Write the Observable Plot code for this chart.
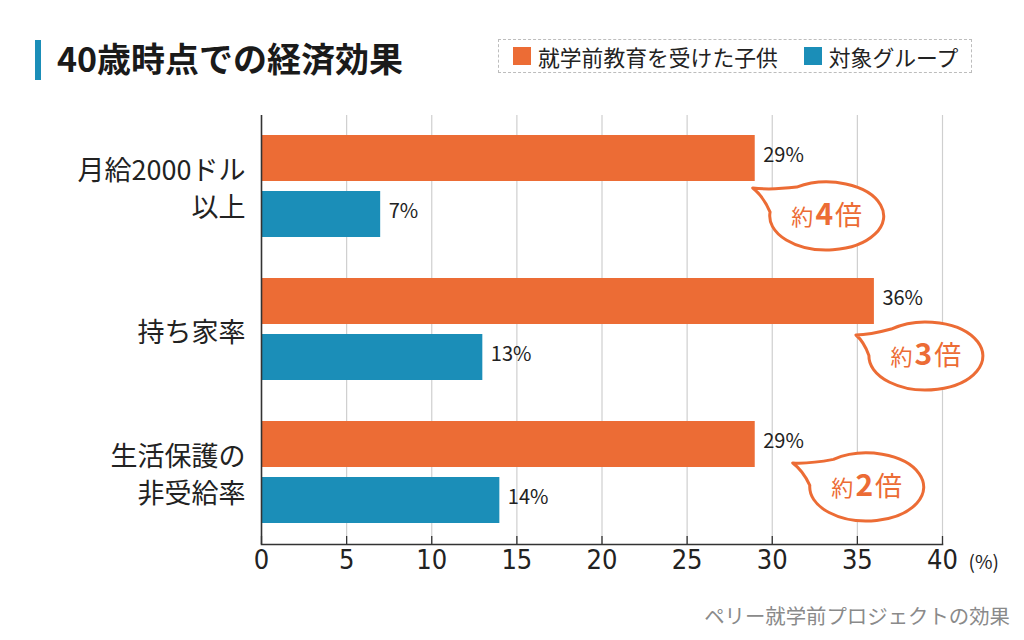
<!DOCTYPE html>
<html><head><meta charset="utf-8">
<script src="https://cdn.jsdelivr.net/npm/d3@7"></script>
<script src="https://cdn.jsdelivr.net/npm/@observablehq/plot@0.6"></script>
<style>
body{margin:0;background:#fff;font-family:"Noto Sans CJK JP",sans-serif;}
#wrap{position:relative;width:1024px;height:640px;overflow:hidden;background:#fff;}
#wrap svg{position:absolute;left:0;top:0;}
#titlebar{position:absolute;left:35px;top:40px;width:6px;height:40px;background:#1B8EB8;}
#title{position:absolute;left:57px;top:36px;font-size:34px;font-weight:700;color:#1a1a1a;line-height:44px;white-space:nowrap;}
#legend{position:absolute;left:498px;top:39px;width:474px;height:34px;border:1.5px dashed #bdbdbd;box-sizing:border-box;display:flex;align-items:center;padding-left:14px;font-size:21.8px;color:#222;white-space:nowrap;}
#legend .item{display:flex;align-items:center;margin-right:26px;}
#legend .sw{width:18px;height:18px;margin-right:7px;}
#caption{position:absolute;right:14px;top:600px;font-size:20.4px;color:#8a8a8a;white-space:nowrap;}
</style></head><body>
<div id="wrap">
  <div id="titlebar"></div>
  <div id="title"></div>
  <div id="legend"></div>
  <div id="caption"></div>
</div>
<script>
// ---- data ----
const categories = ["月給2000ドル\n以上", "持ち家率", "生活保護の\n非受給率"];
const series = ["就学前教育を受けた子供", "対象グループ"];
const preschoolValues = [29, 36, 29];
const controlValues = [7, 13, 14];
const ratioLabels = [["約", "4", "倍"], ["約", "3", "倍"], ["約", "2", "倍"]];
const xTicks = [0, 5, 10, 15, 20, 25, 30, 35, 40];
const unitLabel = "(%)";
const titleText = "40歳時点での経済効果";
const captionText = "ペリー就学前プロジェクトの効果";

// ---- styles / layout ----
const ORANGE = "#EC6C35";
const BLUE = "#1B8EB8";
const colors = [ORANGE, BLUE];
const calloutLayout = [
  {tip: [-2, 7], center: [72, 35]},
  {tip: [-18, 11], center: [52, 32]},
  {tip: [38, -4], center: [112, 20]}
];

document.getElementById("title").textContent = titleText;
document.getElementById("caption").textContent = captionText;
const legend = document.getElementById("legend");
series.forEach((s, i) => {
  const it = document.createElement("div"); it.className = "item";
  const sw = document.createElement("div"); sw.className = "sw"; sw.style.background = colors[i];
  const tx = document.createElement("span"); tx.textContent = s;
  it.appendChild(sw); it.appendChild(tx); legend.appendChild(it);
});

const data = categories.flatMap((c, i) => [
  {category: c, series: series[0], value: preschoolValues[i]},
  {category: c, series: series[1], value: controlValues[i]}
]);

const plot = Plot.plot({
  width: 1024, height: 640,
  marginLeft: 261, marginRight: 82, marginTop: 115, marginBottom: 96,
  style: {fontFamily: '"Noto Sans CJK JP", sans-serif', background: "transparent", overflow: "visible"},
  x: {domain: [0, 40], ticks: xTicks, label: null},
  y: {domain: series, axis: null, paddingInner: 0.175, paddingOuter: 0.342},
  fy: {domain: categories, padding: 0, axis: null, label: null},
  color: {domain: series, range: colors},
  marks: [
    Plot.gridX(xTicks.filter(t => t > 0), {stroke: "#cfcfcf", strokeOpacity: 1, strokeWidth: 1.2}),
    Plot.barX(data, {x: "value", y: "series", fy: "category", fill: "series"}),
    Plot.text(data, {x: "value", y: "series", fy: "category", text: d => d.value + "%", dx: 8, dy: -3,
      textAnchor: "start", fontSize: 20, fill: "#222"}),
    Plot.ruleX([0], {stroke: "#333", strokeWidth: 1.6}),
    Plot.frame({anchor: "bottom", facetAnchor: "bottom", stroke: "#333", strokeWidth: 1.6}),
    Plot.axisX({ticks: xTicks, tickSize: 8, dy: -8, text: null, label: null, stroke: "#333", strokeWidth: 1.3, facetAnchor: "bottom"}),
    Plot.axisX({ticks: xTicks, tickSize: 0, tickPadding: 5, fontSize: 27, label: null,
      fontFamily: '"Liberation Sans Narrow", "DejaVu Sans Condensed", sans-serif', fill: "#222", facetAnchor: "bottom"}),
    Plot.text([unitLabel], {frameAnchor: "bottom-right", dx: 26, dy: 18, textAnchor: "start", fontSize: 19,
      fill: "#222", facetAnchor: "bottom", lineAnchor: "middle"}),
    Plot.axisFy({anchor: "left", tickSize: 0, tickPadding: 16, fontSize: 27, lineHeight: 1.35, label: null, fill: "#222"})
  ]
});
document.getElementById("wrap").insertBefore(plot, document.getElementById("titlebar"));

// ---- callouts (positioned with the plot's own scales) ----
const sx = plot.scale("x"), sy = plot.scale("y"), sfy = plot.scale("fy");
const g = d3.select(plot).append("g");
const rx = 57, ry = 34;
categories.forEach((c, i) => {
  const xe = sx.apply(preschoolValues[i]);
  const yb = sfy.apply(c) + sy.apply(series[0]) - sy.range[0] + sy.bandwidth;
  const L = calloutLayout[i];
  const T = [xe + L.tip[0], yb + L.tip[1]];
  const C = [xe + L.center[0], yb + L.center[1]];
  const phi = Math.atan2((T[1] - C[1]) / ry, (T[0] - C[0]) / rx);
  const d = 0.45;
  const pt = a => [C[0] + rx * Math.cos(a), C[1] + ry * Math.sin(a)];
  const b1 = pt(phi + d), b2 = pt(phi - d), ax = pt(phi);
  const mid = (p, q) => [(p[0] + q[0]) / 2, (p[1] + q[1]) / 2];
  const lerp = (p, q, t) => [p[0] + (q[0] - p[0]) * t, p[1] + (q[1] - p[1]) * t];
  const am = mid(ax, T);
  const c1 = lerp(mid(b1, T), am, 0.5), c2 = lerp(mid(b2, T), am, 0.5);
  const path = `M${b1} A${rx},${ry} 0 1 1 ${b2} Q${c2} ${T} Q${c1} ${b1} Z`;
  g.append("path").attr("d", path).attr("fill", "#fff").attr("stroke", ORANGE)
    .attr("stroke-width", 3).attr("stroke-linejoin", "round");
  const t = g.append("text").attr("x", C[0]).attr("y", C[1] + 9).attr("text-anchor", "middle")
    .attr("fill", ORANGE).attr("font-family", '"Noto Sans CJK JP", sans-serif');
  const [a, n, b] = ratioLabels[i];
  t.append("tspan").attr("font-size", 22).text(a);
  t.append("tspan").attr("font-size", 30).attr("font-weight", 700).attr("dx", 2).text(n);
  t.append("tspan").attr("font-size", 27).attr("dx", 2).text(b);
});
</script>
</body></html>
